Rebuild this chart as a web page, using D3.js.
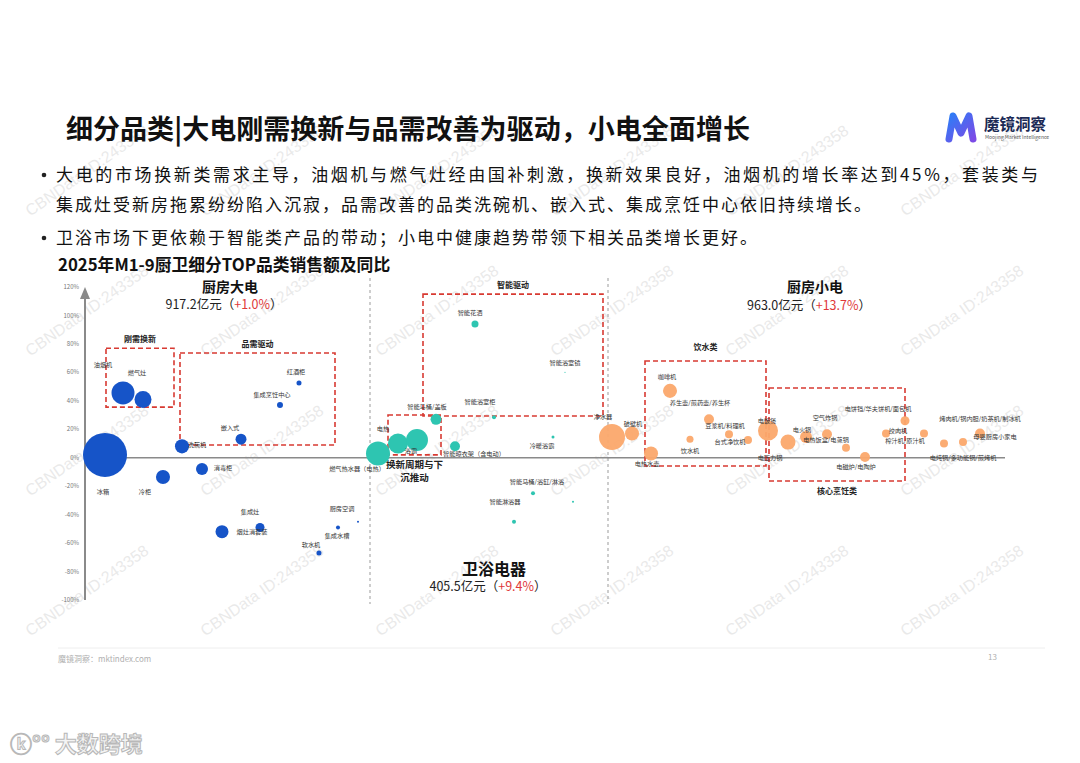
<!DOCTYPE html>
<html><head><meta charset="utf-8">
<script src="https://cdn.jsdelivr.net/npm/d3@7"></script>
<style>
html,body{margin:0;padding:0;background:#fff;}
svg{display:block;font-family:"Noto Sans CJK SC","Noto Sans",sans-serif;}
</style></head>
<body><svg id="c" width="1080" height="763"></svg>
<script>
// ---------------- DATA ----------------
const title = "细分品类|大电刚需换新与品需改善为驱动，小电全面增长";
const bullets = [
  ["大电的市场换新类需求主导，油烟机与燃气灶经由国补刺激，换新效果良好，油烟机的增长率达到45%，套装类与",
   "集成灶受新房拖累纷纷陷入沉寂，品需改善的品类洗碗机、嵌入式、集成烹饪中心依旧持续增长。"],
  ["卫浴市场下更依赖于智能类产品的带动；小电中健康趋势带领下相关品类增长更好。"]
];
const chartTitle = "2025年M1-9厨卫细分TOP品类销售额及同比";
const yTicks = [120,100,80,60,40,20,0,-20,-40,-60,-80,-100];

// groups: name, sales (亿元), yoy (%)
const groupNames = ["厨房大电","卫浴电器","厨房小电"];
const groupSales = [917.2, 405.5, 963.0];
const groupYoy   = [1.0, 9.4, 13.7];

// bubbles: [name, order position, yoy %, sales 亿元]
const kitchenMajor = [
  ["冰箱",2.0,2,470],["油烟机",3.8,45.5,128],["燃气灶",5.8,41,70],["冷柜",7.8,-13.5,48],
  ["洗碗机",9.7,8,48],["消毒柜",11.7,-8,35],["烟灶消套装",13.7,-52,41],["嵌入式",15.6,13,29],
  ["集成灶",17.5,-49,19.7],["集成烹饪中心",19.5,37,8.7],["红酒柜",21.4,52.5,6.1],
  ["软水机",23.4,-67,6.1],["集成水槽",25.3,-49,3.9],["厨房空调",27.3,-45,1]
];
const bathroom = [
  ["燃气热水器（电热）",29.3,3,140],["电热",31.3,10,97],["浴霸",33.2,12.5,117],
  ["智能马桶/盖板",35.1,27,29],["智能晾衣架（含电动）",37.0,8,24],["智能花洒",39.0,94,12],
  ["智能浴室柜",40.9,28.5,3.9],["智能淋浴器",42.9,-45,3.9],["智能马桶/浴缸/淋浴",44.8,-25,3.9],
  ["冷暖浴霸",46.8,14.5,2.2],["智能浴室镜",48.0,60,0.3],["",48.8,-31,1]
];
const kitchenSmall = [
  ["净水器",52.7,14.5,164],["破壁机",54.7,17,48],["电热水壶",56.6,3,48],["咖啡机",58.5,47,48],
  ["饮水机",60.5,13,12],["养生壶/煎药壶/养生杯",62.4,27,24],["豆浆机/料理机",64.4,16.5,15.5],
  ["台式净饮机",66.3,12.5,15.5],["电饭煲",68.3,19,97],["电压力锅",70.3,11,55],["电火锅",72.1,14.5,35],
  ["空气炸锅",74.2,16.5,24],["电热饭盒/电蒸锅",76.1,7,15.5],["电磁炉/电陶炉",78.0,0.5,24],
  ["绞肉机",80.1,17,15.5],["电饼铛/华夫饼机/面包机",82.0,26,19.7],["榨汁机/原汁机",83.9,17,15.5],
  ["电炖锅/多功能锅/煎烤机",85.9,10,15.5],["烤肉机/锅内胆/奶茶机/制冰机",87.8,11,15.5],["母婴厨房小家电",89.5,17,24]
];
// annotation boxes: [label, x0, x1, yTop, yBottom, label side]
const boxes = [
  ["刚需换新",2.1,8.9,77,35.6,"top"],["品需驱动",9.5,25.0,73.6,8.9,"top"],
  ["智能驱动",33.8,51.8,115,29.3,"top"],["换新周期与下|沉推动",30.3,35.6,30,2,"bottom"],
  ["饮水类",56.0,68.1,68,-5.8,"top"],["核心烹饪类",68.4,82.0,49,-16.4,"bottom"]
];
const colors = ["#1654c8","#2ec5b1","#fba86c"];

// ---------------- LAYOUT (label offsets, px) ----------------
const labelOffset = {
  "冰箱":[-2,37],"油烟机":[-20,-28],"燃气灶":[-6,-27],"洗碗机":[15,-2],"嵌入式":[-11,-11],
  "集成烹饪中心":[-8,-10],"红酒柜":[-3,-11],"冷柜":[-18,15],"消毒柜":[21,-1],"烟灶消套装":[30,0],
  "集成灶":[-10,-16],"厨房空调":[-16,-13],"集成水槽":[-1,8],"软水机":[-8,-8],
  "燃气热水器（电热）":[-21,15],"电热":[-15,-15],"浴霸":[-6,11],"智能马桶/盖板":[-9,-12],
  "智能晾衣架（含电动）":[19,7],"智能花洒":[-5,-11],"智能浴室镜":[0,-10],"智能浴室柜":[-14,-15],
  "冷暖浴霸":[-11,9],"智能马桶/浴缸/淋浴":[4,-11],"智能淋浴器":[-9,-20],
  "净水器":[-9,-20],"破壁机":[1,-10],"咖啡机":[-3,-14],"养生壶/煎药壶/养生杯":[-9,-16],
  "豆浆机/料理机":[-4,-8],"饮水机":[0,12],"台式净饮机":[-18,2],"电热水壶":[-4,10],"电饭煲":[-1,-10],
  "电压力锅":[-18,16],"电火锅":[-4,-7],"空气炸锅":[-2,-16],"电热饭盒/电蒸锅":[-20,-8],
  "电磁炉/电陶炉":[-9,10],"绞肉机":[12,-3],"电饼铛/华夫饼机/面包机":[-27,-12],"榨汁机/原汁机":[-19,7],
  "电炖锅/多功能锅/煎烤机":[19,14],"烤肉机/锅内胆/奶茶机/制冰机":[17,-23],"母婴厨房小家电":[15,3]
};

// ---------------- DRAW ----------------
const svg = d3.select("#c");
const x = d3.scaleLinear().domain([0,92]).range([85,1005]);
const y = d3.scaleLinear().domain([-100,120]).range([600,287]);
const r = d3.scaleSqrt().domain([0,470]).range([0,22]);

// watermarks (behind content)
const wm=svg.append("g").attr("pointer-events","none");
for(let i=0;i<6;i++){for(let j=0;j<4;j++){
  wm.append("text").attr("transform",`translate(${90+175*i},${175+140*j}) rotate(-35)`)
    .attr("text-anchor","middle").attr("font-family","Liberation Sans, Arial, sans-serif")
    .attr("font-size",16).attr("fill","#d4d4d4").attr("fill-opacity",0.5).text("CBNData ID:243358");
}}

// title
svg.append("text").attr("x",66).attr("y",139).attr("font-size",27).attr("font-weight",700)
  .attr("fill","#111").attr("textLength",684).attr("lengthAdjust","spacingAndGlyphs").text(title);

// logo
const defs = svg.append("defs");
const lg = defs.append("linearGradient").attr("id","lg").attr("x1","0").attr("y1","0").attr("x2","1").attr("y2","1");
lg.append("stop").attr("offset","0").attr("stop-color","#2f7cf6");
lg.append("stop").attr("offset","1").attr("stop-color","#7b4be6");
svg.append("path").attr("d","M949,139 L953,116 L961,133 L969,116 L973,139")
  .attr("fill","none").attr("stroke","url(#lg)").attr("stroke-width",7)
  .attr("stroke-linecap","round").attr("stroke-linejoin","round");
svg.append("text").attr("x",984).attr("y",130).attr("font-size",15.5).attr("font-weight",700).attr("fill","#1b2a55").text("魔镜洞察");
svg.append("text").attr("x",985).attr("y",139).attr("font-size",5).attr("fill","#555").text("Moojing Market Intelligence");

// bullets
let by = 181;
bullets.forEach((lines,bi)=>{
  svg.append("circle").attr("cx",44).attr("cy",by-6).attr("r",2.3).attr("fill","#222");
  lines.forEach((ln,li)=>{
    const t=svg.append("text").attr("x",56).attr("y",by).attr("font-size",17).attr("letter-spacing",2.0)
      .attr("fill","#111").text(ln);
    if(li < lines.length-1) t.attr("textLength",984).attr("lengthAdjust","spacing");
    by += 30;
  });
  by += 3;
});

// chart title
svg.append("text").attr("x",58).attr("y",271).attr("font-size",16.8).attr("font-weight",700)
  .attr("fill","#111").text(chartTitle);

// separators
[370,608].forEach(px=>{
  svg.append("line").attr("x1",px).attr("x2",px).attr("y1",278).attr("y2",604)
    .attr("stroke","#b3b3b3").attr("stroke-width",1.3).attr("stroke-dasharray","3,3");
});

// x axis line
svg.append("line").attr("x1",x(0)).attr("x2",x(92)).attr("y1",y(0)).attr("y2",y(0))
  .attr("stroke","#8a8a8a").attr("stroke-width",1.6);
// y axis
svg.append("line").attr("x1",x(0)).attr("x2",x(0)).attr("y1",y(-100)).attr("y2",y(120)+10)
  .attr("stroke","#8a8a8a").attr("stroke-width",2);
svg.append("path").attr("d",`M${x(0)-5},${y(120)+12} L${x(0)},${y(120)} L${x(0)+5},${y(120)+12} Z`).attr("fill","#8a8a8a");
svg.append("g").selectAll("text").data(yTicks).join("text")
  .attr("x",x(0)-6).attr("y",d=>y(d)).attr("dy","0.35em").attr("text-anchor","end")
  .attr("font-size",6).attr("fill","#777").text(d=>d+"%");

// boxes
boxes.forEach(b=>{
  const x0=x(b[1]),x1=x(b[2]),y0=y(b[3]),y1=y(b[4]);
  svg.append("rect").attr("x",x0).attr("y",y0).attr("width",x1-x0).attr("height",y1-y0)
    .attr("fill","none").attr("stroke","#d83a32").attr("stroke-width",1.6).attr("stroke-dasharray","5,3");
  const parts=b[0].split("|");
  const cx=(x0+x1)/2;
  if(b[5]==="top"){
    svg.append("text").attr("x",cx).attr("y",y0-(parts[0].length>3?6:11)).attr("text-anchor","middle")
      .attr("font-size",8).attr("font-weight",700).attr("fill","#222").text(parts[0]);
  } else {
    parts.forEach((p,i)=>{
      svg.append("text").attr("x",cx).attr("y",y1+13+i*13).attr("text-anchor","middle")
        .attr("font-size",parts.length>1?9.5:8).attr("font-weight",700).attr("fill","#222").text(p);
    });
  }
});

// bubbles
const series=[kitchenMajor,bathroom,kitchenSmall];
series.forEach((arr,si)=>{
  const g=svg.append("g");
  g.selectAll("circle").data(arr).join("circle")
    .attr("cx",d=>x(d[1])).attr("cy",d=>y(d[2])).attr("r",d=>r(d[3]))
    .attr("fill",colors[si]).attr("fill-opacity",si===2?0.95:1);
  g.selectAll("text").data(arr.filter(d=>d[0])).join("text")
    .attr("x",d=>x(d[1])+(labelOffset[d[0]]||[0,0])[0])
    .attr("y",d=>y(d[2])+(labelOffset[d[0]]||[0,0])[1])
    .attr("dy","0.35em").attr("text-anchor","middle")
    .attr("font-size",6.2).attr("fill","#333").text(d=>d[0]);
});

// group headings
const headPos=[[230,287,305,14],[494,569,587,16],[815,287,306,14]];
groupNames.forEach((n,i)=>{
  const hp=headPos[i];
  svg.append("text").attr("x",hp[0]).attr("y",hp[1]).attr("dy","0.35em").attr("text-anchor","middle")
    .attr("font-size",hp[3]).attr("font-weight",700).attr("fill","#111").text(n);
  const t=svg.append("text").attr("x",hp[0]-6).attr("y",hp[2]).attr("dy","0.35em").attr("text-anchor","middle")
    .attr("font-size",12.5).attr("fill","#222");
  t.append("tspan").text(groupSales[i].toFixed(1)+"亿元（");
  t.append("tspan").attr("fill","#e0393a").text("+"+groupYoy[i].toFixed(1)+"%");
  t.append("tspan").text("）");
});

// footer
svg.append("line").attr("x1",58).attr("x2",1045).attr("y1",648).attr("y2",648).attr("stroke","#eeeeee").attr("stroke-width",1);
svg.append("text").attr("x",58).attr("y",662).attr("font-size",8).attr("fill","#b0b0b0").text("魔镜洞察：mktindex.com");
svg.append("text").attr("x",988).attr("y",660).attr("font-size",8).attr("fill","#b0b0b0").text("13");

// bottom-left brand mark
svg.append("text").attr("x",10).attr("y",752).attr("font-size",22).attr("font-weight",700)
  .attr("fill","#f4f4f4").attr("stroke","#b8b8b8").attr("stroke-width",1).text("ⓚ°° 大数跨境");
</script></body></html>
